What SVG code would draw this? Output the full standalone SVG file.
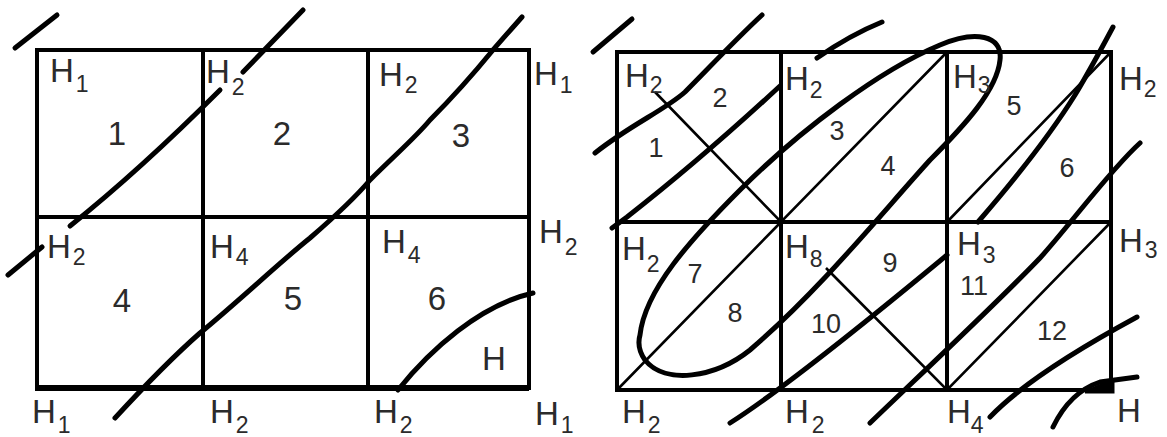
<svg xmlns="http://www.w3.org/2000/svg" width="1167" height="437" viewBox="0 0 1167 437">
<style>
.g{fill:none;stroke:#000;stroke-width:4;stroke-linecap:square}
.d{fill:none;stroke:#000;stroke-width:2.6}
.p{fill:none;stroke:#000;stroke-width:5;stroke-linecap:round;stroke-linejoin:round}
text{font-family:"Liberation Sans",Arial,sans-serif;fill:#2b2b2b}
.h{font-size:33px}
.s{font-size:23px}
.n{font-size:33px;text-anchor:middle}
.m{font-size:27px;text-anchor:middle}
</style>
<rect width="1167" height="437" fill="#fff"/>
<g id="left-grid">
<path class="g" d="M37,50H529V388M37,50V388M203,50V388M368,50V388M37,217H529"/>
<path d="M35,388H529" stroke="#000" stroke-width="6" fill="none"/>
</g>
<g id="left-strokes">
<path class="p" d="M15,48L57,15"/>
<path class="p" d="M70,226Q140,170 220,90"/>
<path class="p" d="M243,72L303,10"/>
<path class="p" d="M8,275L42,247"/>
<path class="p" d="M115,418C150,380 175,355 200,333C240,300 280,262 310,238C340,212 360,192 370,180C395,155 415,138 430,120C455,95 475,72 493,50C505,36 515,25 522,17"/>
<path class="p" d="M398,390C430,350 480,305 533,293"/>
</g>
<g id="left-labels">
<text class="h" x="50" y="82">H<tspan class="s" dy="10" dx="2">1</tspan></text>
<text class="h" x="206" y="83">H<tspan class="s" dy="12" dx="2">2</tspan></text>
<text class="h" x="379" y="86">H<tspan class="s" dy="7" dx="2">2</tspan></text>
<text class="h" x="534" y="85">H<tspan class="s" dy="8" dx="2">1</tspan></text>
<text class="h" x="47" y="258">H<tspan class="s" dy="7" dx="2">2</tspan></text>
<text class="h" x="210" y="258">H<tspan class="s" dy="7" dx="2">4</tspan></text>
<text class="h" x="382" y="253">H<tspan class="s" dy="10" dx="2">4</tspan></text>
<text class="h" x="539" y="243">H<tspan class="s" dy="12" dx="2">2</tspan></text>
<text class="h" x="482" y="370">H</text>
<text class="h" x="32" y="423">H<tspan class="s" dy="10" dx="2">1</tspan></text>
<text class="h" x="210" y="423">H<tspan class="s" dy="10" dx="2">2</tspan></text>
<text class="h" x="374" y="423">H<tspan class="s" dy="10" dx="2">2</tspan></text>
<text class="h" x="535" y="425">H<tspan class="s" dy="8" dx="2">1</tspan></text>
<text class="n" x="117" y="145">1</text>
<text class="n" x="282" y="145">2</text>
<text class="n" x="461" y="147">3</text>
<text class="n" x="122" y="312">4</text>
<text class="n" x="293" y="310">5</text>
<text class="n" x="437" y="310">6</text>
</g>
<g id="right-grid">
<path class="g" d="M617,52H1111V390H617ZM781,52V390M947,52V390M617,222H1111"/>
<path class="d" d="M655,92L781,222L947,52M947,222L1111,52M617,390L781,222M826,268L947,390L1111,222"/>
</g>
<g id="right-strokes">
<path class="p" d="M593,52L632,19"/>
<path class="p" d="M595,153C630,125 665,110 685,92C705,72 735,40 762,15"/>
<path class="p" d="M612,228L627,217Q700,160 780,86"/>
<path class="p" d="M817,58Q850,35 882,22"/>
<path class="p" d="M640,335C645,290 690,240 740,190C800,130 880,70 940,45C975,30 1003,35 1000,60C997,90 965,125 930,160C880,215 820,290 750,350C715,378 665,385 645,360C638,350 638,342 640,335Z"/>
<path class="p" d="M978,222C1010,185 1050,135 1075,95C1090,70 1105,42 1113,27"/>
<path class="p" d="M870,423C920,375 1000,300 1040,258C1070,225 1110,170 1140,143"/>
<path class="p" d="M730,423Q790,385 947,255"/>
<path class="p" d="M990,417Q1030,375 1137,317"/>
<path class="p" d="M1053,427Q1070,392 1100,382L1137,377"/>
<path d="M1085,392L1113,380L1113,392Z" fill="#000" stroke="#000" stroke-width="3"/>
</g>
<g id="right-labels">
<text class="h" x="625" y="87">H<tspan class="s" dy="6" dx="1">2</tspan></text>
<text class="h" x="785" y="90">H<tspan class="s" dy="8" dx="1">2</tspan></text>
<text class="h" x="953" y="88">H<tspan class="s" dy="5" dx="1">3</tspan></text>
<text class="h" x="1119" y="90">H<tspan class="s" dy="7" dx="1">2</tspan></text>
<text class="h" x="622" y="260">H<tspan class="s" dy="12" dx="1">2</tspan></text>
<text class="h" x="785" y="258">H<tspan class="s" dy="9" dx="1">8</tspan></text>
<text class="h" x="957" y="255">H<tspan class="s" dy="8" dx="2">3</tspan></text>
<text class="h" x="1119" y="252">H<tspan class="s" dy="6" dx="2">3</tspan></text>
<text class="h" x="622" y="423">H<tspan class="s" dy="10" dx="2">2</tspan></text>
<text class="h" x="785" y="423">H<tspan class="s" dy="10" dx="3">2</tspan></text>
<text class="h" x="947" y="423">H<tspan class="s" dy="10" dx="0">4</tspan></text>
<text class="h" x="1117" y="422">H</text>
<text class="m" x="656" y="157">1</text>
<text class="m" x="720" y="107">2</text>
<text class="m" x="837" y="140">3</text>
<text class="m" x="888" y="175">4</text>
<text class="m" x="1014" y="115">5</text>
<text class="m" x="1067" y="177">6</text>
<text class="m" x="695" y="283">7</text>
<text class="m" x="735" y="322">8</text>
<text class="m" x="890" y="272">9</text>
<text class="m" x="826" y="333">10</text>
<text class="m" x="974" y="295">11</text>
<text class="m" x="1052" y="340">12</text>
</g>
</svg>
